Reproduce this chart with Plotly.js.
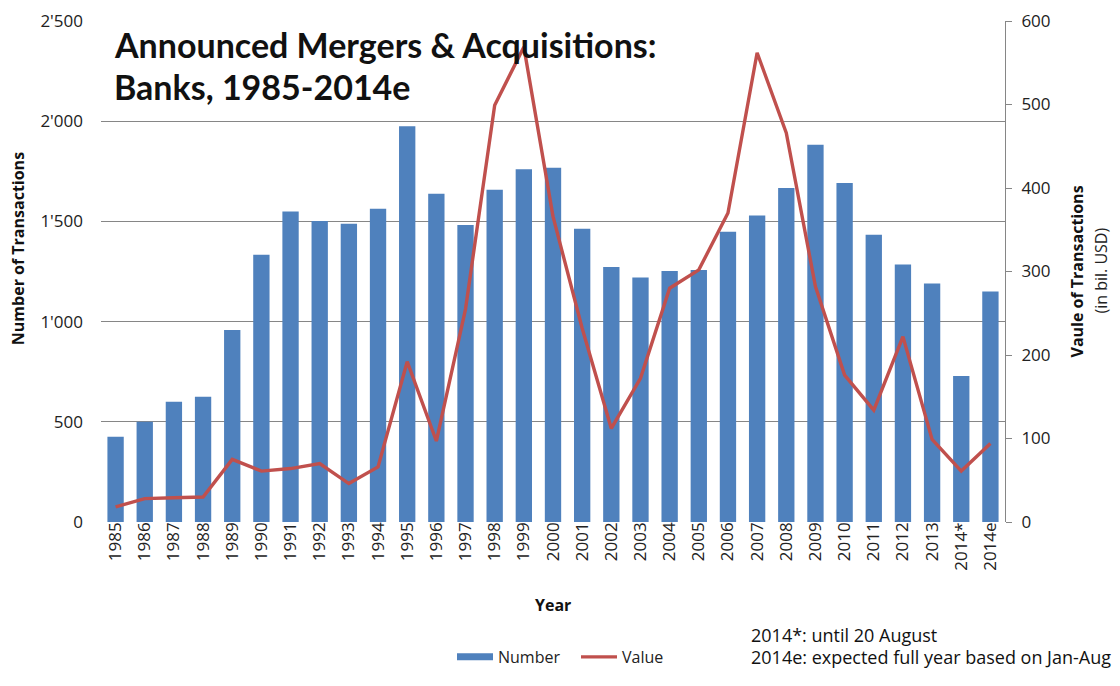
<!DOCTYPE html>
<html>
<head>
<meta charset="utf-8">
<script src="https://cdn.plot.ly/plotly-3.0.1.min.js"></script>
<style>html,body{margin:0;padding:0;background:#fff;}#chart{width:1120px;height:686px;}</style>
</head>
<body>
<div id="chart"></div>
<script>
// 31 categories: 1985..2013, 2014* (until 20 August), 2014e (expected full year)
const categories = ["1985","1986","1987","1988","1989","1990","1991","1992","1993","1994",
  "1995","1996","1997","1998","1999","2000","2001","2002","2003","2004",
  "2005","2006","2007","2008","2009","2010","2011","2012","2013","2014*","2014e"];
const numberOfTransactions = [425,500,600,625,958,1333,1550,1502,1488,1563,
  1975,1638,1482,1658,1760,1768,1463,1272,1220,1253,
  1258,1448,1530,1667,1883,1692,1433,1285,1190,728,1150];
const valueOfTransactions = [18,28,29,30,75,61,64,70,46,66,
  192,97,255,499,569,366,232,112,172,280,
  302,370,562,466,282,176,134,222,99,61,94];
const leftTicks = [0,500,1000,1500,2000,2500];
const rightTicks = [0,100,200,300,400,500,600];

const FONT = '"Open Sans", "DejaVu Sans", sans-serif';
const BLUE = '#4F81BD';
const RED = '#C0504D';

const traces = [
  {type:'bar', name:'Number', x:categories, y:numberOfTransactions,
   marker:{color:BLUE}, yaxis:'y', showlegend:false, hoverinfo:'x+y'},
  // legend-only entry drawing the wide blue key like the original
  {type:'scatter', mode:'lines', name:'Number', x:[null], y:[null],
   line:{color:BLUE, width:7}, yaxis:'y', showlegend:true, hoverinfo:'skip'},
  {type:'scatter', mode:'lines', name:'Value', x:categories, y:valueOfTransactions,
   line:{color:RED, width:3.4}, yaxis:'y2', hoverinfo:'x+y'}
];

const layout = {
  width:1120, height:686,
  margin:{l:101, r:115, t:21, b:149, pad:0},
  paper_bgcolor:'#fff', plot_bgcolor:'#fff',
  font:{family:FONT, color:'#222', size:15},
  separators:".'",
  bargap:0.44,
  showlegend:true,
  legend:{orientation:'h', x:(452-101)/904, y:(537-676)/516, xanchor:'left', yanchor:'middle',
    font:{size:16, color:'#222'}, itemwidth:36, entrywidth:73, entrywidthmode:'pixels',
    traceorder:'normal', bgcolor:'rgba(0,0,0,0)'},
  xaxis:{type:'category', tickangle:-90, tickfont:{size:17, color:'#222'},
    showgrid:false, showline:false, ticks:'', zeroline:false, automargin:false,
    ticklabelstandoff:-4},
  yaxis:{range:[0,2500], tickvals:leftTicks, tickformat:',d', showgrid:true,
    gridcolor:'#868686', gridwidth:1, zeroline:false, showline:false, ticks:'',
    tickfont:{size:17, color:'#222'}, ticklabelstandoff:17, automargin:false, fixedrange:true},
  yaxis2:{range:[0,600], tickvals:rightTicks, overlaying:'y', side:'right',
    showgrid:false, zeroline:false, showline:true, linecolor:'#868686', linewidth:1,
    ticks:'outside', ticklen:6, tickcolor:'#868686', tickfont:{size:17, color:'#222'},
    ticklabelstandoff:6, automargin:false, fixedrange:true},
  annotations:[
    {xref:'paper', yref:'paper', x:(112-101)/904, y:(537-45)/516, xanchor:'left', yanchor:'middle',
     text:'<b>Announced Mergers &amp; Acquisitions:</b>', showarrow:false,
     font:{family:'Lato, "Open Sans", sans-serif', size:34, color:'#111'}},
    {xref:'paper', yref:'paper', x:(112-101)/904, y:(537-88)/516, xanchor:'left', yanchor:'middle',
     text:'<b>Banks, 1985-2014e</b>', showarrow:false,
     font:{family:'Lato, "Open Sans", sans-serif', size:34, color:'#111'}},
    {xref:'paper', yref:'paper', x:(18-101)/904, y:(537-256)/516, xanchor:'center', yanchor:'middle',
     text:'<b>Number of Transactions</b>', textangle:-90, showarrow:false,
     font:{family:FONT, size:16, color:'#111'}},
    {xref:'paper', yref:'paper', x:(1076-101)/904, y:(537-279)/516, xanchor:'center', yanchor:'middle',
     text:'<b>Vaule of Transactions</b>', textangle:-90, showarrow:false,
     font:{family:FONT, size:16, color:'#111'}},
    {xref:'paper', yref:'paper', x:(1101-101)/904, y:(537-278)/516, xanchor:'center', yanchor:'middle',
     text:'(in bil. USD)', textangle:-90, showarrow:false,
     font:{family:FONT, size:16, color:'#222'}},
    {xref:'paper', yref:'paper', x:(553-101)/904, y:(537-622)/516, xanchor:'center', yanchor:'middle',
     text:'<b>Year</b>', showarrow:false, font:{family:FONT, size:16, color:'#111'}},
    {xref:'paper', yref:'paper', x:(749-101)/904, y:(537-653)/516, xanchor:'left', yanchor:'middle',
     text:'2014*: until 20 August', showarrow:false, font:{family:FONT, size:18, color:'#111'}},
    {xref:'paper', yref:'paper', x:(749-101)/904, y:(537-676)/516, xanchor:'left', yanchor:'middle',
     text:'2014e: expected full year based on Jan-Aug', showarrow:false, font:{family:FONT, size:18, color:'#111'}}
  ]
};

Plotly.newPlot('chart', traces, layout, {displayModeBar:false, staticPlot:true});
</script>
</body>
</html>
